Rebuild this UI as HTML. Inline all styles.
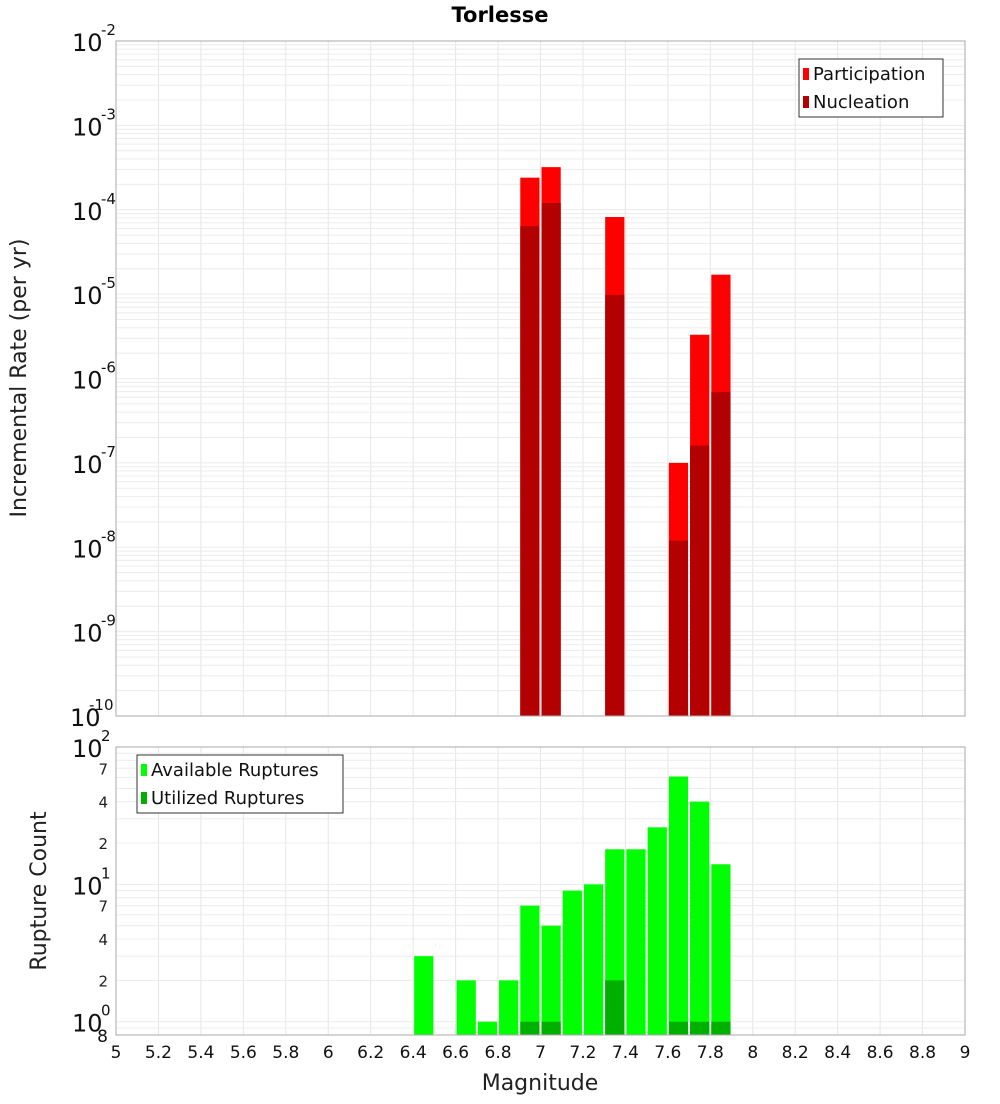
<!DOCTYPE html>
<html><head><meta charset="utf-8"><style>
body{margin:0;background:#fff;font-family:"DejaVu Sans","Liberation Sans",sans-serif;}
svg text{font-family:"DejaVu Sans","Liberation Sans",sans-serif;}
</style></head><body>
<svg id="c" width="1000" height="1100" xmlns="http://www.w3.org/2000/svg">
<text x="500" y="22" text-anchor="middle" font-size="21" font-weight="bold">Torlesse</text>
<g id="top"></g>
<g id="bot"></g>
<text transform="translate(26,378) rotate(-90)" text-anchor="middle" font-size="22" fill="#222">Incremental Rate (per yr)</text>
<text transform="translate(46,891) rotate(-90)" text-anchor="middle" font-size="22" fill="#222">Rupture Count</text>
<text x="540" y="1090" text-anchor="middle" font-size="22" fill="#222">Magnitude</text>
</svg>
<script>
const binCenters=[6.45,6.55,6.65,6.75,6.85,6.95,7.05,7.15,7.25,7.35,7.45,7.55,7.65,7.75,7.85];
const participation=[0,0,0,0,0,2.4e-4,3.2e-4,0,0,8.2e-5,0,0,1.0e-7,3.3e-6,1.7e-5];
const nucleation=[0,0,0,0,0,6.4e-5,1.2e-4,0,0,9.8e-6,0,0,1.2e-8,1.6e-7,6.9e-7];
const available=[3,0,2,1,2,7,5,9,10,18,18,26,61,40,14];
const utilized=[0,0,0,0,0,1,1,0,0,2,0,0,1,1,1];
const xTicks=[5,5.2,5.4,5.6,5.8,6,6.2,6.4,6.6,6.8,7,7.2,7.4,7.6,7.8,8,8.2,8.4,8.6,8.8,9];
const topExps=[-10,-9,-8,-7,-6,-5,-4,-3,-2];
const botMinorLabels=[2,4,7,20,40,70];

const NS="http://www.w3.org/2000/svg";
function mk(p,t,a){const e=document.createElementNS(NS,t);for(const k in a)e.setAttribute(k,a[k]);p.appendChild(e);return e;}
const X0=116,X1=965;
const x=v=>X0+(v-5)/4*(X1-X0);
const T0=41,T1=716,yT=v=>T1-(Math.log10(v)+10)/8*(T1-T0);
const B0=747,B1=1035,lmin=Math.log10(0.8),yB=v=>B1-(Math.log10(v)-lmin)/(2-lmin)*(B1-B0);
const gTop=document.getElementById('top'),gBot=document.getElementById('bot');

function grid(g,y0,y1,ys){
  for(let v=5;v<=9.001;v+=0.2){const l=mk(g,'line',{x1:x(v),x2:x(v),y1:y0,y2:y1,stroke:'#e6e6e6'});}
  ys.forEach(yy=>{const l=mk(g,'line',{x1:X0,x2:X1,y1:yy,y2:yy,stroke:'#ececec'});});
}
let ty=[];for(let e=-10;e<-2;e++)for(let m=1;m<10;m++)ty.push(yT(m*Math.pow(10,e)));
grid(gTop,T0,T1,ty);
let by=[];[0.8,0.9].forEach(v=>by.push(yB(v)));for(let e=0;e<2;e++)for(let m=1;m<10;m++)by.push(yB(m*Math.pow(10,e)));
grid(gBot,B0,B1,by);

const bw=x(5.1)-x(5)-2;
binCenters.forEach((c,i)=>{
  if(participation[i]>0){const r=mk(gTop,'rect',{x:x(c)-bw/2,y:yT(participation[i]),width:bw,height:T1-yT(participation[i]),fill:'#ff0000'});}
  if(nucleation[i]>0){const r=mk(gTop,'rect',{x:x(c)-bw/2,y:yT(nucleation[i]),width:bw,height:T1-yT(nucleation[i]),fill:'#b30000'});}
  if(available[i]>0){const r=mk(gBot,'rect',{x:x(c)-bw/2,y:yB(available[i]),width:bw,height:B1-yB(available[i]),fill:'#00ff00'});}
  if(utilized[i]>0){const r=mk(gBot,'rect',{x:x(c)-bw/2,y:yB(utilized[i]),width:bw,height:B1-yB(utilized[i]),fill:'#00b000'});}
});
[[gTop,T0,T1],[gBot,B0,B1]].forEach(([g,a,b])=>{const r=mk(g,'rect',{x:X0,y:a,width:X1-X0,height:b-a,fill:'none',stroke:'#aaa'});});

topExps.forEach(e=>{const yy=yT(Math.pow(10,e));
  const t=mk(gTop,'text',{x:e==-10?70:72,y:yy+10,'font-size':24,fill:'#111'});t.textContent='10';
  const s=mk(gTop,'text',{x:e==-10?89:101,y:yy-6,'font-size':15,fill:'#111'});s.textContent=String(e);});
[[100,'2'],[10,'1'],[1,'0']].forEach(([v,e])=>{const yy=yB(v);
  const t=mk(gBot,'text',{x:72,y:yy+10,'font-size':24,fill:'#111'});t.textContent='10';
  const s=mk(gBot,'text',{x:101,y:yy-6,'font-size':15,fill:'#111'});s.textContent=e;});
botMinorLabels.forEach(v=>{const t=mk(gBot,'text',{x:108,y:yB(v)+6,'font-size':15,'text-anchor':'end',fill:'#222'});t.textContent=String(v).charAt(0);});
{const t=mk(gBot,'text',{x:108,y:1042,'font-size':17,'text-anchor':'end',fill:'#111'});t.textContent='8';}
xTicks.forEach(v=>{const t=mk(gBot,'text',{x:x(v),y:1058,'font-size':17,'text-anchor':'middle',fill:'#111'});t.textContent=String(v);});

function legend(g,bx,byy,w,items){
  const r=mk(g,'rect',{x:bx,y:byy,width:w,height:58,fill:'#fff',stroke:'#333'});
  items.forEach(([lab,col],i)=>{const s=mk(g,'rect',{x:bx+4,y:byy+9+i*28,width:6,height:12,fill:col});
    const t=mk(g,'text',{x:bx+14,y:byy+21+i*28,'font-size':18,fill:'#111'});t.textContent=lab;});
}
legend(gTop,799,59,144,[['Participation','#ff0000'],['Nucleation','#b30000']]);
legend(gBot,137,755,206,[['Available Ruptures','#00ff00'],['Utilized Ruptures','#00b000']]);
</script>
</body></html>
